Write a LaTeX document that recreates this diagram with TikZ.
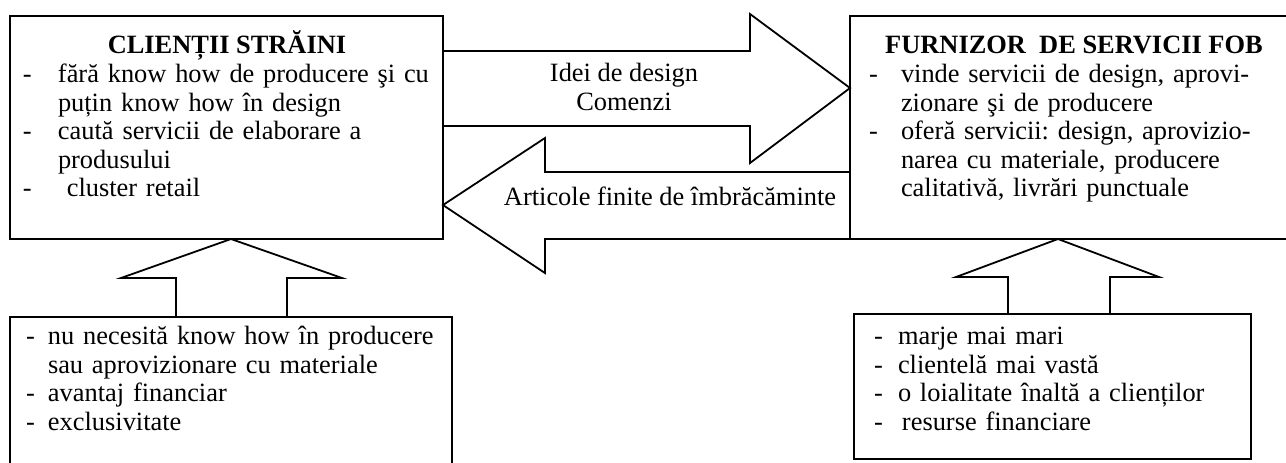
\documentclass[tikz,border=0pt]{standalone}
\usepackage{fontspec}
\setmainfont{Liberation Serif}
\usetikzlibrary{fit,positioning}

\newcommand{\bul}[1]{\makebox[#1][l]{-}}
\frenchspacing

\begin{document}
\begin{tikzpicture}[x=0.5pt,y=-0.5pt,line width=0.9pt,
      every node/.style={font=\fontsize{13.2}{14.25}\selectfont},
      box/.style={draw, rectangle, inner sep=0pt},
      title/.style={font=\fontsize{13.2}{14.25}\selectfont\bfseries, anchor=base, inner sep=0pt},
      list/.style={anchor=north west, inner sep=0pt, text width=215pt, align=left},
      lbl/.style={inner sep=0pt, align=center}
   ]
      \useasboundingbox (0,0) rectangle (1286,462);
      \clip (0,0) rectangle (1286,462);

      % the four boxes
      \node[box, fit={(10,16) (443,239)}] (CS) {};
      \node[box, fit={(850,16) (1300,239)}] (FS) {};
      \node[box, fit={(10,317) (452,480)}] (AC) {};
      \node[box, fit={(854,314) (1251,459)}] (AF) {};

      \node[title] (CStitle) at (227,53) {CLIENȚII STRĂINI};
      \node[title] (FStitle) at (1074,53) {FURNIZOR\ \ DE SERVICII FOB};

      \node[list, below right=23.5pt and 6.5pt of CS.north west] (CSlist)
         {\strut\bul{17.5pt}fără know how de producere şi cu\\
          \hspace*{17.5pt}puțin know how în design\\
          \bul{17.5pt}caută servicii de elaborare a\\
          \hspace*{17.5pt}produsului\\
          \bul{17.5pt}\ cluster retail};
      \node[list, below right=23.5pt and 9.5pt of FS.north west] (FSlist)
         {\strut\bul{16pt}vinde servicii de design, aprovi-\\
          \hspace*{16pt}zionare şi de producere\\
          \bul{16pt}oferă servicii: design, aprovizio-\\
          \hspace*{16pt}narea cu materiale, producere\\
          \hspace*{16pt}calitativă, livrări punctuale};
      \node[list, below right=4pt and 8pt of AC.north west] (AClist)
         {\strut\bul{11pt}nu necesită know how în producere\\
          \hspace*{11pt}sau aprovizionare cu materiale\\
          \bul{11pt}avantaj financiar\\
          \bul{11pt}exclusivitate};
      \node[list, below right=5.5pt and 10pt of AF.north west] (AFlist)
         {\strut\bul{12pt}marje mai mari\\
          \bul{12pt}clientelă mai vastă\\
          \bul{12pt}o loialitate înaltă a clienților\\
          \bul{12pt}\hspace{2pt}resurse financiare};

      % block arrows
      \draw (443,51) -- (750,51) -- (750,14) -- (850,88) -- (750,163) -- (750,126) -- (443,126);
      \draw (850,172) -- (545,172) -- (545,138) -- (443,205) -- (545,273) -- (545,239) -- (850,239);
      \draw (176,317) -- (176,278) -- (121,278) -- (231,239) -- (342,278) -- (287,278) -- (287,317);
      \draw (1008,314) -- (1008,277) -- (956,277) -- (1058,239) -- (1159,277) -- (1110,277) -- (1110,314);

      \node[lbl, anchor=north] (ideas) at (624,61) {\strut Idei de design\\Comenzi};
      \node[lbl, anchor=base] (goods) at (670,205) {Articole finite de îmbrăcăminte};
   \end{tikzpicture}
\end{document}
